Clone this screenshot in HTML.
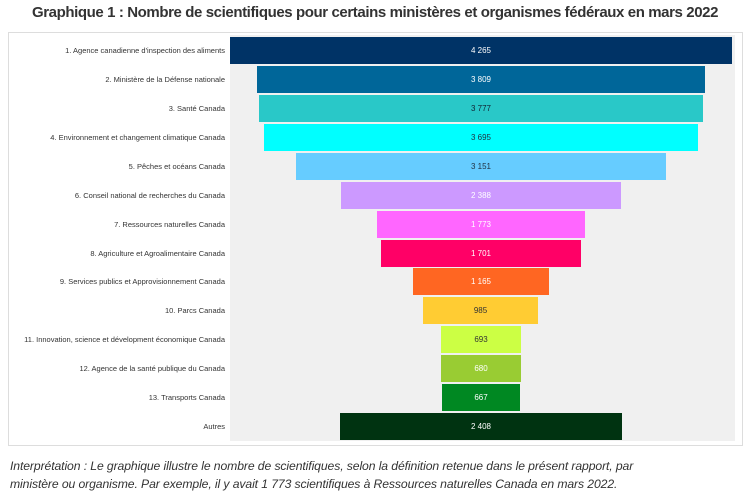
<!DOCTYPE html>
<html><head><meta charset="utf-8"><style>
body{margin:0;width:750px;height:493px;background:#fff;font-family:"Liberation Sans",sans-serif;position:relative;overflow:hidden}
.t{position:absolute;left:0;width:750px;top:4px;text-align:center;font-size:15px;font-weight:bold;color:#333;letter-spacing:-0.4px}
.box{position:absolute;left:8px;top:32px;width:735px;height:414px;border:1px solid #ddd;box-sizing:border-box}
.pa{position:absolute;left:230px;top:35px;width:505px;height:406px;background:#f0f0f0}
.b{position:absolute;height:27px;font-size:8px;line-height:27px;text-align:center;color:#fff}
.l{position:absolute;right:525px;font-size:7.5px;line-height:27px;color:#333;white-space:nowrap}
.n{position:absolute;left:10px;top:457px;font-size:12.2px;font-style:italic;color:#333;line-height:18px;letter-spacing:-0.1px}
</style></head><body>
<div class="t">Graphique 1 : Nombre de scientifiques pour certains ministères et organismes fédéraux en mars 2022</div>
<div class="box"></div><div class="pa"></div>
<div class="l" style="top:37px">1. Agence canadienne d'inspection des aliments</div><div class="b" style="left:230px;width:502px;top:37px;background:#003366">4 265</div>
<div class="l" style="top:66px">2. Ministère de la Défense nationale</div><div class="b" style="left:257px;width:448px;top:66px;background:#006699">3 809</div>
<div class="l" style="top:95px">3. Santé Canada</div><div class="b" style="left:259px;width:444px;top:95px;background:#29c8c8;color:#123">3 777</div>
<div class="l" style="top:124px">4. Environnement et changement climatique Canada</div><div class="b" style="left:264px;width:434px;top:124px;background:#00ffff;color:#234">3 695</div>
<div class="l" style="top:153px">5. Pêches et océans Canada</div><div class="b" style="left:296px;width:370px;top:153px;background:#66ccff;color:#234">3 151</div>
<div class="l" style="top:182px">6. Conseil national de recherches du Canada</div><div class="b" style="left:341px;width:280px;top:182px;background:#cc99ff">2 388</div>
<div class="l" style="top:211px">7. Ressources naturelles Canada</div><div class="b" style="left:377px;width:208px;top:211px;background:#ff66ff">1 773</div>
<div class="l" style="top:240px">8. Agriculture et Agroalimentaire Canada</div><div class="b" style="left:381px;width:200px;top:240px;background:#ff0066">1 701</div>
<div class="l" style="top:268px">9. Services publics et Approvisionnement Canada</div><div class="b" style="left:413px;width:136px;top:268px;background:#ff6622">1 165</div>
<div class="l" style="top:297px">10. Parcs Canada</div><div class="b" style="left:423px;width:115px;top:297px;background:#ffcc33;color:#333">985</div>
<div class="l" style="top:326px">11. Innovation, science et dévelopment économique Canada</div><div class="b" style="left:441px;width:80px;top:326px;background:#ccff44;color:#333">693</div>
<div class="l" style="top:355px">12. Agence de la santé publique du Canada</div><div class="b" style="left:441px;width:80px;top:355px;background:#99cc33">680</div>
<div class="l" style="top:384px">13. Transports Canada</div><div class="b" style="left:442px;width:78px;top:384px;background:#008822">667</div>
<div class="l" style="top:413px">Autres</div><div class="b" style="left:340px;width:282px;top:413px;background:#003311">2 408</div>
<div class="n">Interprétation : Le graphique illustre le nombre de scientifiques, selon la définition retenue dans le présent rapport, par<br>ministère ou organisme. Par exemple, il y avait 1 773 scientifiques à Ressources naturelles Canada en mars 2022.</div>
</body></html>
